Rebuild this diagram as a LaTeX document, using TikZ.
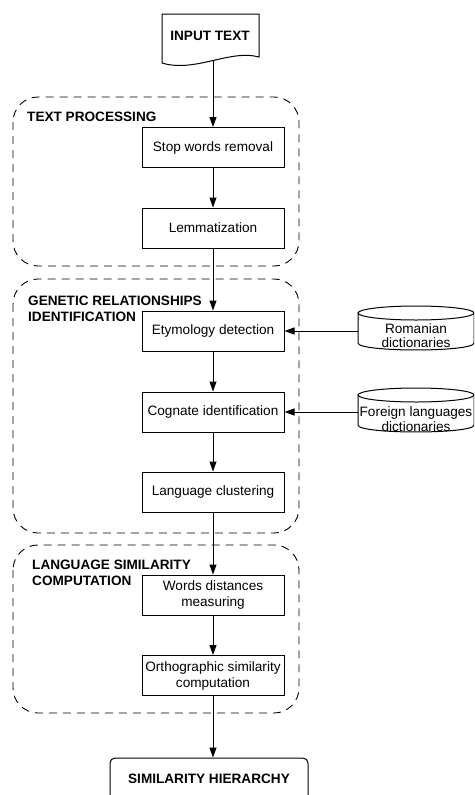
\documentclass[tikz,border=0pt]{standalone}
\usepackage{fontspec}
\setmainfont{Liberation Sans}
\usetikzlibrary{arrows.meta}
\begin{document}
\begin{tikzpicture}[x=1pt,y=-1pt,
  every node/.style={font=\fontsize{13.6}{16}\selectfont},
  proc/.style={draw, line width=1pt, minimum width=142pt, minimum height=40pt, inner sep=0pt, align=center},
  grp/.style={draw, line width=0.9pt, dash pattern=on 8pt off 6pt, rounded corners=25pt},
  glabel/.style={anchor=west, inner sep=0pt, align=left, font=\fontsize{13.6}{16}\selectfont\bfseries},
  arr/.style={line width=1pt, -{Triangle[length=10pt,width=7pt]}},
  dbtext/.style={minimum width=116pt, inner sep=0pt, align=center, font=\fontsize{13.6}{14.5}\selectfont},
  dbshape/.style={draw, line width=1pt, fill=white}
]
\clip (0,0) rectangle (474,795);

% groups
\draw[grp] (13,97) rectangle (299,266);
\draw[grp] (13,279) rectangle (299,533);
\draw[grp] (13,545) rectangle (299,713);
\node[glabel] (g1) at (27,117) {TEXT PROCESSING};
\node[glabel] (g2) at (28,309) {GENETIC RELATIONSHIPS\\IDENTIFICATION};
\node[glabel] (g3) at (32,573) {LANGUAGE SIMILARITY\\COMPUTATION};

% input document
\draw[line width=1pt] (162,14) -- (259,14) -- (259,57) .. controls (230,49) and (195,73) .. (162,63) -- cycle;
\node[font=\fontsize{13.6}{16}\selectfont\bfseries] (in) at (210,36) {INPUT TEXT};
\coordinate (inb) at (213,61);

% process boxes
\node[proc] (stop) at (213,147.5) {Stop words removal};
\node[proc] (lem) at (213,228) {Lemmatization};
\node[proc] (ety) at (213,331) {Etymology detection};
\node[proc] (cog) at (213,412) {Cognate identification};
\node[proc] (clu) at (213,492) {Language clustering};
\node[proc] (wdm) at (213,595) {Words distances\\measuring};
\node[proc] (ort) at (213,675.5) {Orthographic similarity\\computation};

% terminal
\node[draw, line width=1pt, rounded corners=5pt, minimum width=198pt, minimum height=42pt, inner sep=0pt,
      font=\fontsize{13.6}{16}\selectfont\bfseries] (sim) at (209,779) {SIMILARITY HIERARCHY};

% databases
\draw[dbshape] (358,313) -- (358,343) .. controls (358,352.3) and (474,352.3) .. (474,343) -- (474,313);
\draw[dbshape] (416,313) ellipse [x radius=58pt, y radius=7pt];
\node[dbtext] (rom) at (416,335.5) {Romanian\\dictionaries};

\draw[dbshape] (358,395) -- (358,425) .. controls (358,434.3) and (474,434.3) .. (474,425) -- (474,395);
\draw[dbshape] (416,395) ellipse [x radius=58pt, y radius=7pt];
\node[dbtext] (for) at (416,419) {Foreign languages\\dictionaries};

% connectors
\draw[arr] (inb) -- (stop.north);
\draw[arr] (stop) -- (lem);
\draw[arr] (lem) -- (ety);
\draw[arr] (ety) -- (cog);
\draw[arr] (cog) -- (clu);
\draw[arr] (clu) -- (wdm);
\draw[arr] (wdm) -- (ort);
\draw[arr] (ort.south) -- (ort.south |- sim.north);
\draw[arr] (rom.west |- ety) -- (ety);
\draw[arr] (for.west |- cog) -- (cog);
\end{tikzpicture}
\end{document}
